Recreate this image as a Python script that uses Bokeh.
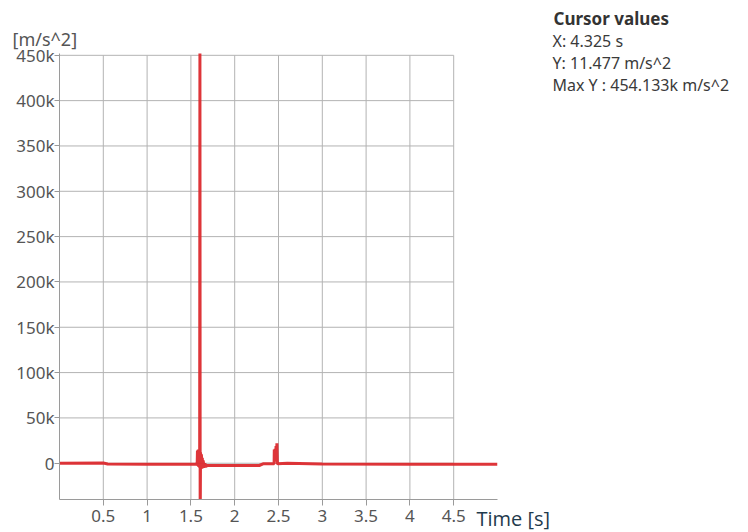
from bokeh.plotting import figure
from bokeh.models import Range1d, Label, FixedTicker
from bokeh.embed import file_html
from bokeh.resources import INLINE

# ---- data ----
time_s = [0.0, 0.5, 0.55, 1.0, 1.55, 1.572, 1.575, 1.58, 1.585, 1.59, 1.595, 1.6,
          1.603, 1.606, 1.61, 1.615, 1.62, 1.625, 1.63, 1.635, 1.64, 1.65, 1.66,
          1.67, 1.68, 1.7, 2.0, 2.28, 2.33, 2.45, 2.452, 2.457, 2.462, 2.467,
          2.472, 2.477, 2.482, 2.487, 2.49, 2.6, 3.0, 4.0, 5.0]
accel = [0, 300, -800, -1000, -1200, 0, 14000, -3000, 15000, -4000, 13000, -5000,
         454133, -70000, 12000, -5000, 10000, -6000, 6000, -5000, 3000, -5000, 0,
         -4000, -2500, -2500, -2500, -2500, -500, -500, 15000, 2000, 16000, 3000,
         19000, 5000, 22000, 0, -500, 0, -800, -1000, -1000]

x_ticks = [0.5, 1, 1.5, 2, 2.5, 3, 3.5, 4, 4.5]
x_tick_labels = ["0.5", "1", "1.5", "2", "2.5", "3", "3.5", "4", "4.5"]
y_ticks = [0, 50000, 100000, 150000, 200000, 250000, 300000, 350000, 400000, 450000]
y_tick_labels = ["0", "50k", "100k", "150k", "200k", "250k", "300k", "350k", "400k", "450k"]

x_start, x_end = 0, 5
y_start, y_end = -40000, 452000

y_unit_label = "[m/s^2]"
x_unit_label = "Time [s]"
cursor_title = "Cursor values"
cursor_lines = ["X: 4.325 s", "Y: 11.477 m/s^2", "Max Y : 454.133k m/s^2"]

# ---- figure ----
p = figure(width=748, height=532, output_backend="svg", toolbar_location=None,
           x_range=Range1d(x_start, x_end), y_range=Range1d(y_start, y_end),
           min_border_left=59, min_border_right=251, min_border_top=53,
           min_border_bottom=33)
p.outline_line_color = None
p.xgrid.visible = False
p.ygrid.visible = False

grid_color = "#b3b3b3"
p.segment(x0=x_ticks, y0=[y_start] * len(x_ticks), x1=x_ticks,
          y1=[y_ticks[-1]] * len(x_ticks), line_color=grid_color, line_width=1)
p.segment(x0=[x_start] * len(y_ticks), y0=y_ticks, x1=[x_ticks[-1]] * len(y_ticks),
          y1=y_ticks, line_color=grid_color, line_width=1)

p.line(time_s, accel, line_color="#dc2a2e", line_width=3, line_alpha=0.95)

for ax, ticks, labels, standoff, tick_out in ((p.xaxis, x_ticks, x_tick_labels, 4, 6),
                                              (p.yaxis, y_ticks, y_tick_labels, 0, 5)):
    ax.ticker = FixedTicker(ticks=ticks)
    ax.major_label_overrides = {t: l for t, l in zip(ticks, labels)}
    ax.axis_line_color = "#9a9a9a"
    ax.major_tick_line_color = "#9a9a9a"
    ax.major_tick_out = tick_out
    ax.major_tick_in = 0
    ax.minor_tick_out = 0
    ax.minor_tick_in = 0
    ax.major_label_text_font = "Noto Sans"
    ax.major_label_text_font_size = "17px"
    ax.major_label_text_color = "#555555"
    ax.major_label_standoff = standoff

# texts outside the frame live in side panels (centre annotations are clipped)
p.add_layout(Label(x=-47, y=15, x_units="screen", y_units="screen",
                   text=y_unit_label, text_font="Noto Sans", text_font_size="18px",
                   text_color="#555555", text_baseline="alphabetic"), "above")
p.add_layout(Label(x=494, y=11, x_units="screen", y_units="screen",
                   text=cursor_title, text_font="Noto Sans", text_font_size="17px",
                   text_font_style="bold", text_color="#333333",
                   text_baseline="alphabetic"), "above")

p.add_layout(Label(x=-21, y=-19, x_units="screen", y_units="screen",
                   text=x_unit_label, text_font="Open Sans", text_font_size="20px",
                   text_color="#1f3b4d", text_baseline="alphabetic"), "right")
p.add_layout(Label(x=-19, y=470, x_units="screen", y_units="screen",
                   text="\n".join(cursor_lines), text_font="Noto Sans",
                   text_font_size="16px", text_color="#3a3a3a",
                   text_baseline="top", text_line_height=1.0), "right")

open("out.html", "w").write(file_html(p, INLINE))
